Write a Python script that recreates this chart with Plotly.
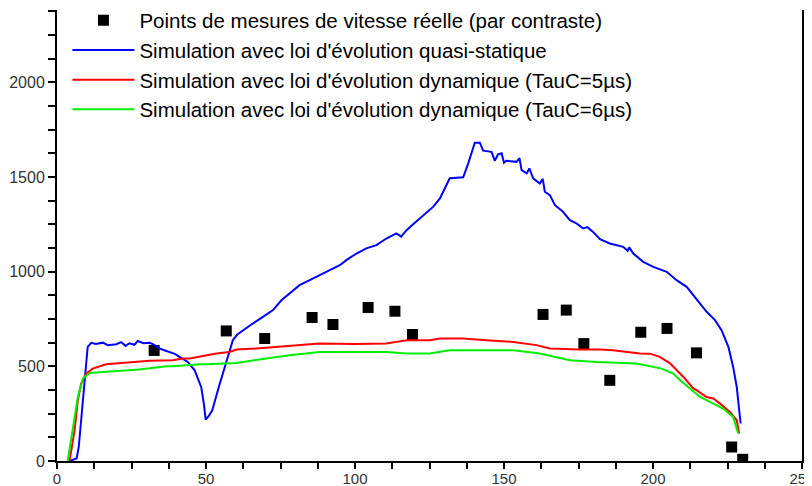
import plotly.graph_objects as go

# Measured points (par contraste)
meas_x = [32.6, 56.8, 69.7, 85.6, 92.6, 104.4, 113.4, 119.3, 163.1, 170.9, 176.8, 185.5, 195.9, 204.7, 214.6, 226.4, 230.1]
meas_y = [584, 687, 647, 758, 721, 811, 791, 668, 774, 797, 620, 426, 680, 700, 571, 74, 9]

# Quasi-static simulation (blue)
blue_x = [4.0, 6.6, 7.3, 8.1, 8.7, 9.6, 10.3, 11.5, 13, 15.4, 17, 19.9, 21.5, 23, 24.3, 26, 27.1, 29, 31.1, 32.5,
          34.4, 36, 37.8, 39.5, 41.1, 43.9, 46.2, 47.2, 48.4, 49.3, 49.9, 51, 52.1, 54.3, 56.6, 57.3, 59.0, 60.5,
          62.4, 65.7, 69.1, 72.5, 75.3, 78.6, 81.4, 84.8, 88.1, 91.5, 94.9, 97.1, 100.5, 103.8, 107.2, 110.5, 113.9,
          115.5, 117.3, 119.5, 121.7, 124.0, 126.2, 128.5, 129.6, 131.8, 136.3, 138, 140.2, 141.9, 143, 145.8, 146.9,
          148, 149.2, 150.0, 150.8, 154.2, 155.2, 155.9, 157.6, 158.5, 159.8, 161, 162.0, 163, 163.7, 165.4, 167.1,
          169.8, 172.1, 174.3, 176.6, 178, 179.9, 182.2, 185.5, 190, 191.5, 192, 193.4, 196.7, 200.1, 204.6, 207.9,
          211.3, 213.5, 215.8, 218, 220.8, 223, 225.3, 226.9, 228.1, 228.9, 229.4]
blue_y = [0, 13, 74, 215, 356, 515, 603, 624, 618, 625, 612, 617, 628, 608, 622, 614, 634, 622, 624, 615,
          594, 585, 576, 566, 550, 523, 479, 440, 390, 300, 219, 240, 268, 391, 515, 541, 638, 668,
          691, 726, 761, 797, 849, 893, 929, 955, 981, 1008, 1034, 1061, 1096, 1123, 1140, 1175, 1202,
          1185, 1219, 1250, 1281, 1316, 1342, 1387, 1422, 1493, 1498, 1572, 1681, 1681, 1639, 1633, 1586,
          1620, 1625, 1575, 1586, 1580, 1600, 1536, 1519, 1545, 1493, 1480, 1466, 1490, 1422, 1404, 1351,
          1316, 1272, 1255, 1228, 1235, 1210, 1172, 1149, 1131, 1110, 1128, 1096, 1052, 1025, 999, 955,
          920, 876, 832, 788, 744, 691, 603, 497, 391, 285, 198]

# Dynamic simulation TauC=5us (red)
red_x = [4.2, 5.9, 7.0, 8.1, 9.8, 12, 16.5, 23.2, 27.7, 31.1, 38.9, 42.2, 44.5, 50.1, 53.5, 57.9, 60.2, 66.9,
         74.7, 80, 88.1, 100, 110.5, 117.3, 125.1, 128.5, 136.3, 144.1, 153.1, 160.9, 165.4, 175.5, 182.2,
         186.6, 188.9, 195.6, 199, 202.3, 205.7, 209.1, 210.2, 213.5, 214.6, 218, 220.2, 222.5, 225.8, 228.1, 228.9]
red_y = [0, 162, 321, 409, 462, 488, 511, 518, 523, 529, 532, 541, 541, 559, 568, 576, 589, 594,
         603, 610, 621, 618, 621, 638, 638, 647, 647, 638, 629, 612, 594, 589, 589,
         585, 581, 568, 567, 550, 516, 462, 444, 383, 374, 338, 330, 303, 259, 215, 145]

# Dynamic simulation TauC=6us (green)
green_x = [3.6, 5.3, 7, 8.7, 10.9, 15.4, 25.5, 27.7, 36.7, 38.9, 47.9, 50.1, 60.2, 64.6, 70.2, 78.1, 88.1,
           110.5, 117.3, 125.1, 131.8, 153.1, 162, 172.1, 181.1, 188.9, 194.5, 202.9, 206.8, 209.1, 214.6,
           215.8, 219.1, 223.5, 226.9, 228.6]
green_y = [0, 162, 338, 435, 465, 470, 483, 483, 501, 501, 511, 511, 518, 529, 541, 559, 576,
           576, 568, 568, 585, 585, 568, 532, 523, 518, 515, 488, 462, 427, 356,
           338, 312, 277, 233, 145]

names = [
    "Points de mesures de vitesse réelle (par contraste)",
    "Simulation avec loi d'évolution quasi-statique",
    "Simulation avec loi d'évolution dynamique (TauC=5µs)",
    "Simulation avec loi d'évolution dynamique (TauC=6µs)",
]

x_tickvals = [i * 12.5 for i in range(21)]
x_ticktext = [str(int(v)) if v % 50 == 0 else "" for v in x_tickvals]
y_tickvals = [i * 125 for i in range(20)]
y_ticktext = [str(v) if v % 500 == 0 else "" for v in y_tickvals]

fig = go.Figure()
fig.add_trace(go.Scatter(x=meas_x, y=meas_y, mode="markers", name=names[0],
                         marker=dict(symbol="square", size=11, color="black")))
fig.add_trace(go.Scatter(x=blue_x, y=blue_y, mode="lines", name=names[1],
                         line=dict(color="#0000ff", width=2)))
fig.add_trace(go.Scatter(x=red_x, y=red_y, mode="lines", name=names[2],
                         line=dict(color="#ff0000", width=2)))
fig.add_trace(go.Scatter(x=green_x, y=green_y, mode="lines", name=names[3],
                         line=dict(color="#00ee00", width=2)))

fig.update_layout(
    width=804, height=478,
    margin=dict(l=49, r=10, t=2, b=25, autoexpand=False),
    paper_bgcolor="white", plot_bgcolor="white",
    font=dict(family="Liberation Sans, Arial, sans-serif", color="black"),
    showlegend=True,
    legend=dict(x=0.014, y=1.021, xanchor="left", yanchor="top",
                font=dict(size=20.5, color="black"), bgcolor="rgba(0,0,0,0)",
                itemwidth=62),
    xaxis=dict(range=[0, 250], showgrid=False, zeroline=False, automargin=False,
               showline=True, linecolor="black", linewidth=2,
               ticks="outside", ticklen=6, tickwidth=2, tickcolor="black",
               ticklabelstandoff=-3, ticklabeloverflow="allow",
               tickmode="array", tickvals=x_tickvals, ticktext=x_ticktext,
               tickfont=dict(size=15, color="#333333")),
    yaxis=dict(range=[0, 2382], showgrid=False, zeroline=False, automargin=False,
               showline=True, linecolor="black", linewidth=2, mirror=True,
               ticks="outside", ticklen=7, tickwidth=2, tickcolor="black",
               tickmode="array", tickvals=y_tickvals, ticktext=y_ticktext,
               tickfont=dict(size=16, color="#333333")),
)

fig.write_html("out.html")
